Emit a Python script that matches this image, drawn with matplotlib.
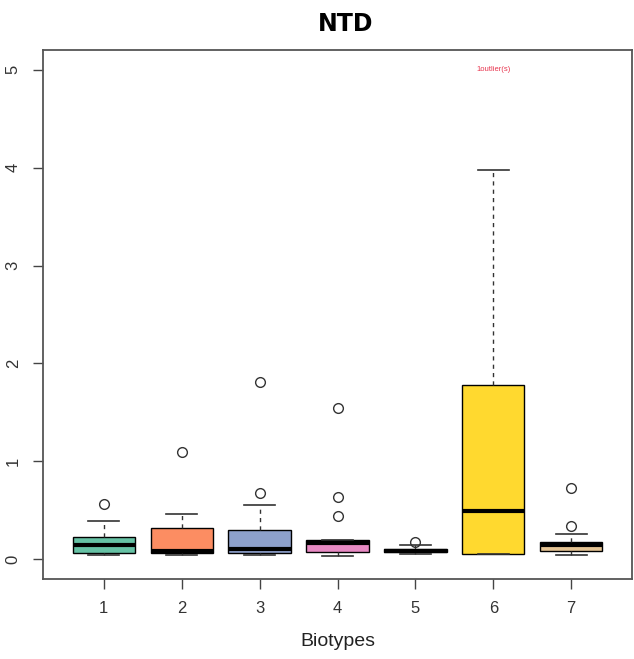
import matplotlib
matplotlib.use("Agg")
import matplotlib.pyplot as plt

# box stats (one entry per biotype)
biotypes = ["1", "2", "3", "4", "5", "6", "7"]
whislo = [0.04, 0.05, 0.05, 0.035, 0.06, 0.055, 0.05]
q1 = [0.065, 0.068, 0.07, 0.08, 0.075, 0.06, 0.09]
med = [0.15, 0.085, 0.105, 0.165, 0.09, 0.49, 0.15]
q3 = [0.227, 0.316, 0.30, 0.20, 0.11, 1.78, 0.177]
whishi = [0.39, 0.46, 0.56, 0.20, 0.15, 3.98, 0.26]
fliers = [[0.57], [1.10], [1.81, 0.68], [1.55, 0.64, 0.44], [0.18], [], [0.34, 0.73]]
colors = ["#66C2A5", "#FC8D62", "#8DA0CB", "#E78AC3", "#A6D854", "#FFD92F", "#E5C494"]
yticks = [0, 1, 2, 3, 4, 5]
note = "1outlier(s)"

plt.rcParams['font.family'] = ['Liberation Sans', 'DejaVu Sans']

fig = plt.figure(figsize=(6.34, 6.59), dpi=100)
ax = fig.add_axes([43/634, 1 - 579/659, (632-43)/634, (579-50)/659])

stats = []
for i in range(len(biotypes)):
    stats.append(dict(whislo=whislo[i], q1=q1[i], med=med[i], q3=q3[i],
                      whishi=whishi[i], fliers=fliers[i], label=biotypes[i]))

bp = ax.bxp(stats, positions=range(1, 8), widths=0.8, patch_artist=True,
            boxprops=dict(edgecolor='black', linewidth=1.0),
            medianprops=dict(color='black', linewidth=3),
            whiskerprops=dict(color='#333333', linestyle=(0, (3, 3)), linewidth=1.0),
            capprops=dict(color='#333333', linewidth=1.2),
            capwidths=0.4,
            flierprops=dict(marker='o', markerfacecolor='none', markeredgecolor='#333333',
                            markersize=7, markeredgewidth=1.0))
for patch, c in zip(bp['boxes'], colors):
    patch.set_facecolor(c)

ax.text(6, 5, note, color='#e8344e', fontsize=5.5, ha='center', va='center')

ax.set_xlim(0.22, 7.78)
ax.set_ylim(-0.2, 5.2)
ax.set_yticks(yticks)
ax.set_yticklabels([str(v) for v in yticks], rotation=90, va='center')
ax.tick_params(axis='both', length=7, width=1, color='#444444', labelcolor='#333333',
               labelsize=12, pad=9)
for s in ax.spines.values():
    s.set_color('#555555')
    s.set_linewidth(1.3)

ax.set_xlabel('Biotypes', fontsize=14, color='#222222', labelpad=12)
fig.text(346/634, 1 - 24/659, 'NTD', fontsize=17, fontweight='bold',
         family=['Liberation Sans Narrow', 'DejaVu Sans'], ha='center', va='center')

fig.savefig('out.png', dpi=100)
